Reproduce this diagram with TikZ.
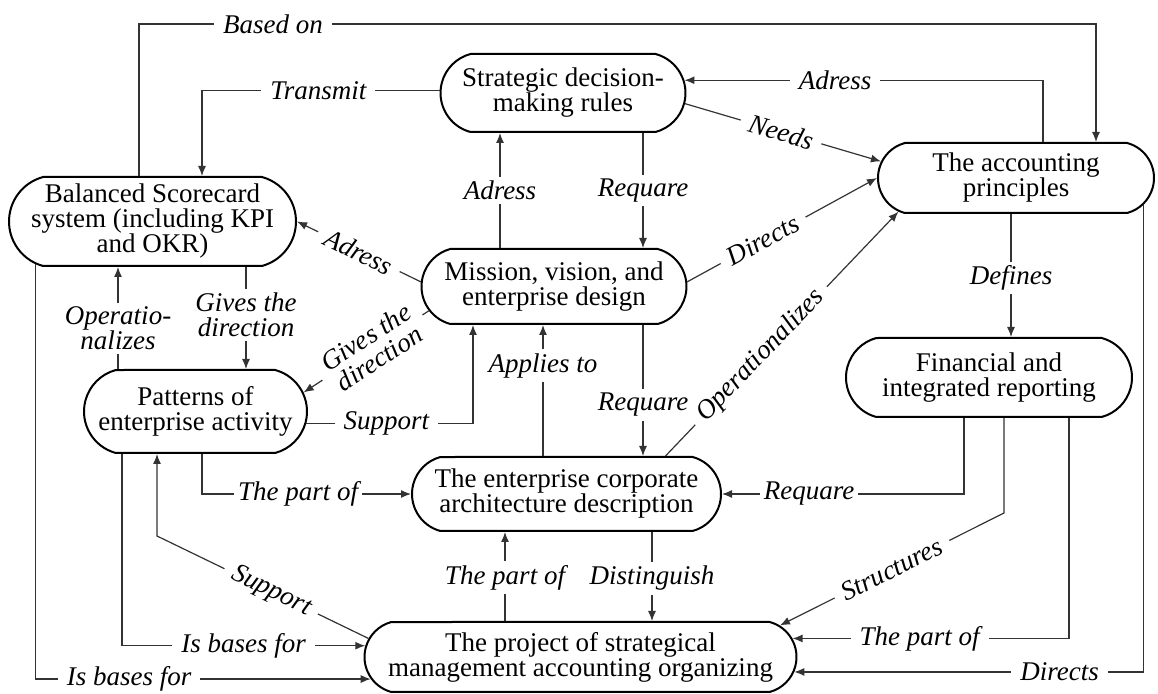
\documentclass[tikz,border=0pt]{standalone}
\usepackage{fontspec}
\setmainfont{Liberation Serif}
\usetikzlibrary{arrows.meta, shapes.misc}
\newcommand{\diafont}{\fontsize{13.5pt}{12.5pt}\selectfont}
\tikzset{
  every picture/.style={font=\diafont},
  blk/.style={draw, line width=1pt, rounded rectangle, rounded rectangle arc length=150, align=center, inner xsep=-12pt, inner ysep=0pt},
  arr/.style={-{Latex[length=5pt, width=4pt]}, draw=black!80, line width=0.6pt},
  lbl/.style={font=\diafont\itshape, fill=white, inner xsep=4.5pt, inner ysep=2pt, align=center},
}

\begin{document}
\begin{tikzpicture}[x=0.5pt, y=-0.5pt]
  \useasboundingbox (0,0) rectangle (1158,694);
  % boxes
  \node[blk, minimum width=98.5pt, minimum height=39pt] (sdr) at (563,93) {Strategic decision-\\making rules};
  \node[blk, minimum width=119.5pt, minimum height=44.5pt] (bsc) at (152.5,221.5) {Balanced Scorecard\\system (including KPI\\and OKR)};
  \node[blk, minimum width=108.5pt, minimum height=37.5pt] (mve) at (554,286.5) {Mission, vision, and\\enterprise design};
  \node[blk, minimum width=114pt, minimum height=35pt] (ap) at (1016,178) {The accounting\\principles};
  \node[blk, minimum width=87.5pt, minimum height=41.5pt] (pat) at (195.5,411.5) {Patterns of\\enterprise activity};
  \node[blk, minimum width=130.5pt, minimum height=37pt] (ea) at (566.5,494) {The enterprise corporate\\architecture description};
  \node[blk, minimum width=119pt, minimum height=39.5pt] (fir) at (989,377.5) {Financial and\\integrated reporting};
  \node[blk, minimum width=192pt, minimum height=35pt] (proj) at (580.5,657) {The project of strategical\\management accounting organizing};
  % top links
  \draw[arr] (139,0 |- bsc.north) -- (139,24) -- node[lbl, pos=0.14] {Based on} (1096,24) -- (1096,0 |- ap.north);
  \draw[arr] (sdr.179) -- node[lbl, pos=0.51] {Transmit} (202,0 |- sdr.179) -- (202,0 |- bsc.north);
  \draw[arr] (1043,0 |- ap.north) |- node[lbl, pos=0.79] {Adress} (sdr.6);
  \draw[arr] (sdr.-5) -- node[lbl, sloped, pos=0.49] {Needs} (ap.173);
  \draw[arr] (mve.2) -- node[lbl, sloped, pos=0.4] {Directs} (ap.west);
  \draw[arr] (ea.21) -- node[lbl, sloped, pos=0.41] {Operationalizes} (ap.196);
  \draw[arr] (500,0 |- mve.north) -- node[lbl] {Adress} (500,0 |- sdr.south);
  \draw[arr] (643,0 |- sdr.south) -- node[lbl] {Requare} (643,0 |- mve.north);
  % left side
  \draw[arr] (mve.178) -- node[lbl, sloped] {Adress} (bsc.east);
  \draw[arr] (mve.191) -- node[lbl, sloped, pos=0.45] {Gives the\\direction} (pat.10);
  \draw[arr] (118,0 |- pat.north) -- node[lbl, pos=0.4] {Operatio-\\nalizes} (118,0 |- bsc.south);
  \draw[arr] (246,0 |- bsc.south) -- node[lbl, pos=0.47] {Gives the\\direction} (246,0 |- pat.north);
  \draw[arr] (pat.-6) -| node[lbl, pos=0.24] {Support} (473,0 |- mve.south);
  % middle
  \draw[arr] (543,0 |- ea.north) -- node[lbl, pos=0.69] {Applies to} (543,0 |- mve.south);
  \draw[arr] (643,0 |- mve.south) -- node[lbl, pos=0.61] {Requare} (643,0 |- ea.north);
  \draw[arr] (1011,0 |- ap.south) -- node[lbl, pos=0.52] {Defines} (1011,0 |- fir.north);
  \draw[arr] (202,0 |- pat.south) |- node[lbl, pos=0.73, inner xsep=2pt] {The part of} (ea.west);
  \draw[arr] (964,0 |- fir.south) |- node[lbl, pos=0.82, inner xsep=2pt] {Requare} (ea.east);
  \draw[arr] (652,0 |- ea.south) -- node[lbl, pos=0.52] {Distinguish} (652,0 |- proj.north);
  \draw[arr] (505,0 |- proj.north) -- node[lbl, pos=0.49] {The part of} (505,0 |- ea.south);
  % bottom
  \draw[arr] (proj.175) -- node[lbl, sloped, pos=0.46] {Support} (157,536) -- (157,0 |- pat.south);
  \draw[arr] (122,0 |- pat.south) |- node[lbl, pos=0.75] {Is bases for} (proj.177);
  \draw[arr] (bsc.200) |- node[lbl, pos=0.64] {Is bases for} (proj.186);
  \draw[arr] (1004,0 |- fir.south) -- (1004,513) -- node[lbl, sloped] {Structures} (proj.9);
  \draw[arr] (1069,0 |- fir.south) |- node[lbl, pos=0.77] {The part of} (proj.5);
  \draw[arr] (ap.-12) |- node[lbl, pos=0.62] {Directs} (proj.-4);
\end{tikzpicture}
\end{document}
